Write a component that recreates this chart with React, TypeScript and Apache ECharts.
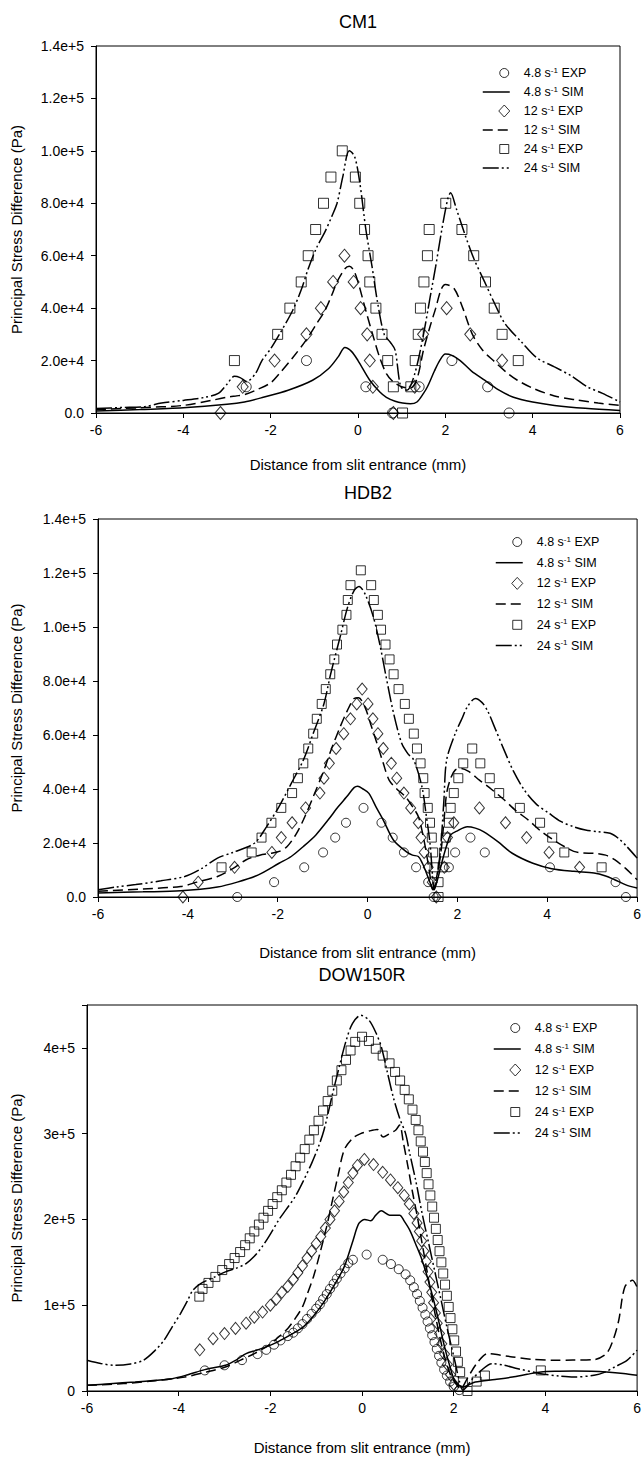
import React, { useEffect, useRef } from "react";
import * as echarts from "echarts";

const FONT = "'Liberation Sans', Arial, sans-serif";

const seriesNames = ["4.8 s-1 EXP", "4.8 s-1 SIM", "12 s-1 EXP", "12 s-1 SIM", "24 s-1 EXP", "24 s-1 SIM"];
const panelTitles = ["CM1", "HDB2", "DOW150R"];
const xTicks = [-6, -4, -2, 0, 2, 4, 6];

// ---------- CM1 ----------
const cm1Exp48 = [[-2.56, 10000], [-1.18, 20000], [0.18, 10000], [0.79, 0], [1.4, 10000], [2.15, 20000], [2.97, 10000], [3.46, 0]];
const cm1Sim48 = [[-6, 800], [-5, 1300], [-4, 2000], [-3, 3300], [-2.6, 4200], [-2.17, 6000], [-1.6, 8700], [-1.04, 12500], [-0.67, 17000], [-0.45, 21500], [-0.3, 25000], [-0.15, 23500], [0, 20000], [0.27, 12500], [0.5, 8000], [0.65, 6000], [0.85, 4500], [1.02, 3800], [1.2, 3500], [1.35, 4200], [1.5, 7500], [1.59, 10000], [1.75, 16000], [1.87, 20000], [2.0, 22500], [2.15, 22000], [2.34, 20000], [2.6, 16000], [2.9, 12500], [3.2, 9000], [3.56, 6000], [4.0, 4200], [4.5, 2900], [5.2, 1800], [6, 1000]];
const cm1Exp12 = [[-3.15, 0], [-2.64, 10000], [-1.91, 20000], [-1.18, 30000], [-0.85, 40000], [-0.57, 50000], [-0.31, 60000], [-0.1, 50000], [0.06, 40000], [0.21, 30000], [0.27, 20000], [0.34, 10000], [0.81, 0], [1.3, 10000], [1.49, 30000], [2.03, 40000], [2.57, 30000], [3.3, 20000]];
const cm1Sim12 = [[-6, 1300], [-5, 2000], [-4, 2900], [-3.3, 5000], [-3, 6000], [-2.8, 6500], [-2.6, 7000], [-2.3, 9000], [-2, 11500], [-1.8, 15000], [-1.5, 21000], [-1.18, 28000], [-0.95, 34000], [-0.76, 39000], [-0.6, 45000], [-0.48, 50000], [-0.3, 55000], [-0.2, 56000], [-0.1, 54500], [0, 50000], [0.18, 39000], [0.37, 28000], [0.5, 21000], [0.65, 15000], [0.8, 12000], [1.0, 10000], [1.2, 9500], [1.35, 13000], [1.5, 24000], [1.65, 33000], [1.78, 40000], [1.9, 47000], [2.0, 49000], [2.2, 47500], [2.4, 40000], [2.62, 30000], [2.85, 24000], [3.1, 20000], [3.4, 15500], [3.65, 12500], [4.0, 9500], [4.5, 6500], [5, 5000], [5.5, 3800], [6, 2900]];
const cm1Exp24 = [[-2.83, 20000], [-1.84, 30000], [-1.56, 40000], [-1.3, 50000], [-1.14, 60000], [-0.97, 70000], [-0.79, 80000], [-0.62, 90000], [-0.36, 100000], [-0.06, 90000], [0.04, 80000], [0.15, 70000], [0.23, 60000], [0.27, 50000], [0.41, 40000], [0.55, 30000], [0.68, 20000], [0.81, 10000], [1.02, 0], [1.21, 10000], [1.31, 20000], [1.38, 30000], [1.43, 40000], [1.51, 50000], [1.59, 60000], [1.63, 70000], [2.01, 80000], [2.38, 70000], [2.65, 60000], [2.92, 50000], [3.12, 40000], [3.3, 30000], [3.67, 20000]];
const cm1Sim24 = [[-6, 1700], [-5.4, 2100], [-4.9, 2400], [-4.5, 3800], [-4, 4800], [-3.5, 6000], [-3.2, 7500], [-3.0, 11000], [-2.83, 14000], [-2.7, 13500], [-2.55, 12000], [-2.35, 15000], [-2.2, 20000], [-2.0, 24500], [-1.8, 30000], [-1.5, 39000], [-1.3, 47000], [-1.14, 55000], [-0.95, 63000], [-0.76, 69000], [-0.6, 75000], [-0.48, 80000], [-0.35, 90000], [-0.2, 100000], [-0.08, 98000], [0.04, 88000], [0.18, 70000], [0.32, 56000], [0.45, 42000], [0.6, 30000], [0.74, 27000], [0.85, 24000], [0.98, 10000], [1.12, 8700], [1.3, 15000], [1.5, 30000], [1.65, 44000], [1.78, 56000], [1.92, 70000], [2.06, 82000], [2.12, 84000], [2.25, 78000], [2.43, 69000], [2.65, 59000], [2.9, 50000], [3.15, 41000], [3.37, 34000], [3.75, 27000], [4.1, 21000], [4.5, 17600], [4.9, 14000], [5.25, 10000], [5.6, 7500], [6, 4200]];

// ---------- HDB2 ----------
const hdbExp48 = [[-2.9, 0], [-2.08, 5500], [-1.41, 11000], [-0.99, 16500], [-0.72, 22000], [-0.48, 27500], [-0.09, 33000], [0.31, 27500], [0.56, 22000], [0.81, 16500], [1.08, 11000], [1.35, 5500], [1.47, 0], [1.81, 11000], [1.95, 16500], [2.29, 22000], [2.61, 16500], [4.06, 11000], [5.52, 5500], [5.75, 0]];
const hdbSim48 = [[-6, 1500], [-5, 1900], [-4.16, 2300], [-3.34, 3700], [-2.9, 5500], [-2.43, 8200], [-1.97, 12500], [-1.7, 15000], [-1.43, 18700], [-1.15, 23000], [-0.88, 28500], [-0.65, 33500], [-0.47, 37000], [-0.3, 40500], [-0.22, 41000], [-0.1, 40000], [0.03, 38400], [0.2, 33000], [0.35, 28500], [0.58, 21000], [0.86, 16800], [1.0, 15500], [1.13, 15000], [1.22, 12500], [1.31, 8900], [1.4, 5000], [1.47, 2700], [1.55, 6000], [1.67, 13800], [1.77, 19500], [1.85, 23000], [2.0, 24500], [2.22, 26000], [2.4, 25500], [2.58, 24200], [2.9, 20500], [3.22, 16200], [3.68, 12500], [4.1, 10500], [4.59, 9500], [5.04, 8900], [5.3, 7800], [5.5, 6400], [5.75, 4500], [6, 3300]];
const hdbExp12 = [[-4.11, 0], [-3.77, 5500], [-2.96, 11000], [-2.13, 16500], [-1.92, 22000], [-1.68, 27500], [-1.38, 33000], [-1.06, 38500], [-0.97, 44000], [-0.85, 49500], [-0.7, 55000], [-0.53, 60500], [-0.38, 66000], [-0.24, 71500], [-0.12, 77000], [0.01, 71500], [0.12, 66000], [0.23, 60500], [0.35, 55000], [0.53, 49500], [0.65, 44000], [0.81, 38500], [0.96, 33000], [1.13, 27500], [1.19, 22000], [1.26, 16500], [1.35, 11000], [1.44, 5500], [1.53, 0], [1.71, 11000], [1.78, 22000], [1.92, 27500], [2.49, 33000], [3.07, 27500], [3.54, 22000], [4.04, 16500], [4.72, 11000]];
const hdbSim12 = [[-6, 2100], [-5, 3000], [-4.16, 3900], [-3.8, 5500], [-3.34, 7600], [-3.0, 10500], [-2.7, 13800], [-2.4, 15500], [-2.15, 16200], [-1.95, 17000], [-1.79, 18700], [-1.6, 23000], [-1.43, 28500], [-1.2, 37500], [-0.97, 47000], [-0.8, 55000], [-0.61, 63000], [-0.45, 69000], [-0.3, 73500], [-0.2, 73800], [-0.06, 70400], [0.07, 64000], [0.21, 56900], [0.35, 49500], [0.48, 43300], [0.65, 40000], [0.84, 37200], [1.0, 33500], [1.13, 29800], [1.22, 24000], [1.31, 16200], [1.38, 9000], [1.45, 2700], [1.52, 6000], [1.63, 16200], [1.7, 28000], [1.76, 38400], [1.85, 44000], [1.95, 47000], [2.08, 47600], [2.25, 46500], [2.49, 43300], [2.75, 40000], [3.04, 36000], [3.3, 32000], [3.58, 28500], [3.85, 24500], [4.13, 21200], [4.4, 18500], [4.59, 16900], [4.8, 16300], [5.04, 16200], [5.3, 15500], [5.5, 13800], [5.75, 10500], [6, 6400]];
const hdbExp24 = [[-3.25, 11000], [-2.58, 16500], [-2.36, 22000], [-2.14, 27500], [-1.92, 33000], [-1.68, 38500], [-1.55, 44000], [-1.43, 49500], [-1.32, 55000], [-1.21, 60500], [-1.13, 66000], [-1.02, 71500], [-0.93, 77000], [-0.83, 82500], [-0.74, 88000], [-0.68, 93500], [-0.56, 99000], [-0.47, 104500], [-0.44, 110000], [-0.38, 115500], [-0.15, 121000], [0.08, 115500], [0.14, 110000], [0.23, 104500], [0.3, 99000], [0.4, 93500], [0.49, 88000], [0.58, 82500], [0.69, 77000], [0.83, 71500], [0.92, 66000], [1.03, 60500], [1.1, 55000], [1.18, 49500], [1.24, 44000], [1.27, 38500], [1.34, 33000], [1.39, 27500], [1.43, 22000], [1.46, 16500], [1.49, 11000], [1.58, 5500], [1.58, 0], [1.67, 11000], [1.7, 16500], [1.74, 22000], [1.81, 27500], [1.85, 33000], [1.92, 38500], [2.02, 44000], [2.13, 49500], [2.33, 55000], [2.51, 49500], [2.72, 44000], [2.93, 38500], [3.39, 33000], [3.84, 27500], [4.11, 22000], [4.38, 16500], [5.21, 11000]];
const hdbSim24 = [[-6, 2700], [-5.6, 3700], [-5.16, 4600], [-4.6, 6000], [-4.07, 7600], [-3.7, 10500], [-3.34, 14400], [-3.0, 16500], [-2.52, 19900], [-2.25, 26000], [-1.97, 33500], [-1.7, 42000], [-1.43, 50700], [-1.2, 61000], [-0.97, 71600], [-0.82, 82700], [-0.6, 97000], [-0.45, 107000], [-0.3, 113500], [-0.19, 115000], [-0.05, 112000], [0.13, 103700], [0.28, 93000], [0.4, 82700], [0.58, 68000], [0.76, 56900], [0.9, 53000], [1.03, 50700], [1.21, 40900], [1.3, 31000], [1.39, 19900], [1.49, 2700], [1.56, 9000], [1.63, 18700], [1.7, 36000], [1.76, 50700], [1.95, 60500], [2.1, 66000], [2.22, 70400], [2.4, 73500], [2.55, 72000], [2.67, 69000], [2.85, 62000], [3.04, 54400], [3.25, 46500], [3.49, 39600], [3.75, 34500], [4.04, 31000], [4.3, 28000], [4.59, 26000], [4.85, 24800], [5.13, 24200], [5.4, 23600], [5.6, 21500], [5.77, 18700], [6, 14400]];

// ---------- DOW150R ----------
const dowExp48 = [[-3.43, 24000], [-3.0, 30000], [-2.62, 36000], [-2.28, 43000], [-2.09, 48000], [-1.92, 54000], [-1.78, 59000], [-1.62, 64000], [-1.5, 68000], [-1.4, 73000], [-1.3, 78000], [-1.2, 84000], [-1.1, 90000], [-1.0, 96000], [-0.92, 101000], [-0.85, 107000], [-0.77, 113000], [-0.7, 119000], [-0.62, 125000], [-0.55, 131000], [-0.47, 137000], [-0.38, 143000], [-0.3, 149000], [-0.2, 153000], [0.1, 159000], [0.45, 153000], [0.63, 148000], [0.8, 142000], [0.95, 136000], [1.05, 129000], [1.13, 121000], [1.2, 113000], [1.26, 105000], [1.32, 97000], [1.38, 89000], [1.43, 81000], [1.48, 73000], [1.53, 65000], [1.58, 57000], [1.63, 49000], [1.68, 41000], [1.73, 33000], [1.79, 25000], [1.85, 18000], [1.92, 11000], [2.0, 5000], [2.12, 1000]];
const dowSim48 = [[-6, 6600], [-5.5, 8500], [-4.95, 10500], [-4.5, 12500], [-4.14, 14400], [-3.8, 19000], [-3.43, 24900], [-2.98, 30000], [-2.75, 36000], [-2.53, 43600], [-2.3, 47500], [-2.09, 51400], [-1.85, 57000], [-1.64, 63000], [-1.45, 69000], [-1.28, 74700], [-1.05, 88000], [-0.83, 103900], [-0.6, 124000], [-0.39, 144700], [-0.2, 175000], [-0.07, 195300], [0.06, 200000], [0.19, 198400], [0.3, 205000], [0.42, 210000], [0.6, 205000], [0.82, 205000], [0.92, 198000], [1.04, 187500], [1.18, 170000], [1.31, 152500], [1.45, 128000], [1.58, 102000], [1.7, 75000], [1.8, 51400], [1.92, 28000], [2.02, 12500], [2.2, 4700], [2.47, 10500], [2.9, 13500], [3.28, 16300], [3.6, 19500], [3.9, 22200], [4.3, 23000], [4.62, 23300], [5.0, 23000], [5.33, 22200], [5.7, 20500], [6, 18300]];
const dowExp12 = [[-3.54, 48000], [-3.25, 61000], [-3.0, 67000], [-2.76, 73000], [-2.53, 79000], [-2.35, 86000], [-2.17, 92000], [-2.0, 100000], [-1.87, 107000], [-1.75, 115000], [-1.62, 122000], [-1.5, 130000], [-1.4, 138000], [-1.3, 146000], [-1.2, 155000], [-1.1, 163000], [-1.0, 172000], [-0.9, 180000], [-0.8, 190000], [-0.7, 200000], [-0.6, 210000], [-0.5, 221000], [-0.4, 232000], [-0.3, 243000], [-0.2, 254000], [-0.1, 263000], [0.05, 270000], [0.25, 264000], [0.45, 255000], [0.62, 246000], [0.78, 237000], [0.92, 228000], [1.03, 218000], [1.13, 207000], [1.2, 196000], [1.25, 186000], [1.3, 175000], [1.35, 163000], [1.4, 151000], [1.44, 139000], [1.48, 127000], [1.52, 115000], [1.56, 103000], [1.6, 91000], [1.64, 79000], [1.69, 67000], [1.74, 55000], [1.8, 43000], [1.86, 31000], [1.93, 19000], [2.0, 8000]];
const dowSim12 = [[-6, 6600], [-5.2, 8600], [-4.5, 12000], [-3.87, 16300], [-3.4, 22000], [-2.98, 28000], [-2.65, 36000], [-2.35, 43600], [-2.05, 53000], [-1.82, 63000], [-1.62, 73000], [-1.46, 84400], [-1.3, 98000], [-1.19, 113600], [-1.05, 135000], [-0.92, 160300], [-0.78, 190000], [-0.66, 218700], [-0.52, 252000], [-0.39, 281000], [-0.2, 295000], [-0.03, 300000], [0.15, 303000], [0.33, 305000], [0.46, 296000], [0.6, 300000], [0.73, 304000], [0.82, 310000], [0.9, 290000], [1.0, 262000], [1.1, 232000], [1.2, 205000], [1.3, 175000], [1.4, 145000], [1.5, 115000], [1.6, 88000], [1.7, 62000], [1.8, 40000], [1.92, 20000], [2.05, 8000], [2.15, 3000], [2.3, 15000], [2.5, 32000], [2.74, 43600], [3.0, 42000], [3.28, 39700], [3.7, 37000], [4.17, 35800], [4.6, 36000], [5.06, 36600], [5.33, 43600], [5.48, 60000], [5.6, 82500], [5.73, 121000], [5.9, 129000], [6, 121000]];
const dowExp24 = [[-3.55, 110000], [-3.48, 119000], [-3.35, 126000], [-3.2, 133000], [-3.05, 141000], [-2.9, 148000], [-2.78, 155000], [-2.66, 162000], [-2.55, 170000], [-2.45, 178000], [-2.35, 186000], [-2.25, 194000], [-2.15, 202000], [-2.05, 210000], [-1.95, 218000], [-1.85, 226000], [-1.75, 234000], [-1.65, 243000], [-1.55, 252000], [-1.45, 262000], [-1.35, 272000], [-1.25, 282000], [-1.15, 293000], [-1.05, 304000], [-0.95, 315000], [-0.85, 327000], [-0.75, 338000], [-0.65, 350000], [-0.55, 362000], [-0.45, 374000], [-0.35, 386000], [-0.25, 397000], [-0.15, 407000], [0.0, 413000], [0.15, 408000], [0.3, 399000], [0.45, 391000], [0.6, 382000], [0.72, 372000], [0.83, 362000], [0.93, 351000], [1.02, 340000], [1.1, 328000], [1.17, 316000], [1.23, 304000], [1.28, 291000], [1.33, 279000], [1.37, 267000], [1.41, 254000], [1.45, 241000], [1.49, 228000], [1.53, 215000], [1.57, 202000], [1.61, 189000], [1.65, 176000], [1.69, 163000], [1.73, 150000], [1.77, 137000], [1.81, 124000], [1.85, 111000], [1.89, 98000], [1.93, 85000], [1.97, 72000], [2.01, 59000], [2.05, 46000], [2.09, 34000], [2.14, 22000], [2.2, 10000], [2.3, 0], [2.5, 11000], [2.68, 18000], [3.9, 24000]];
const dowSim24 = [[-6, 35800], [-5.7, 32000], [-5.39, 30000], [-5.05, 31500], [-4.77, 35800], [-4.5, 48000], [-4.32, 59100], [-4.15, 74000], [-3.96, 90300], [-3.8, 106000], [-3.69, 117500], [-3.52, 125300], [-3.25, 132000], [-2.98, 138900], [-2.75, 143000], [-2.53, 148600], [-2.35, 157000], [-2.18, 168100], [-2.0, 183000], [-1.82, 199200], [-1.65, 212000], [-1.46, 226500], [-1.28, 245000], [-1.1, 265400], [-0.95, 285000], [-0.83, 304300], [-0.65, 345000], [-0.48, 381700], [-0.35, 408000], [-0.21, 428400], [-0.03, 438000], [0.15, 432300], [0.3, 418000], [0.42, 401200], [0.55, 372000], [0.68, 342800], [0.82, 318000], [0.95, 300000], [1.04, 277000], [1.18, 243000], [1.31, 207000], [1.45, 173000], [1.58, 141000], [1.72, 107000], [1.85, 74700], [2.02, 35800], [2.12, 12000], [2.2, 1000], [2.3, 6000], [2.38, 12500], [2.6, 24000], [2.83, 31900], [3.1, 30000], [3.4, 26000], [3.9, 20200], [4.3, 17500], [4.62, 16300], [5.06, 18300], [5.3, 22000], [5.51, 28000], [5.78, 35800], [6, 47500]];

const panelData = [
  [cm1Exp48, cm1Sim48, cm1Exp12, cm1Sim12, cm1Exp24, cm1Sim24],
  [hdbExp48, hdbSim48, hdbExp12, hdbSim12, hdbExp24, hdbSim24],
  [dowExp48, dowSim48, dowExp12, dowSim12, dowExp24, dowSim24],
];

// layout (pixels)
const grids = [
  { left: 96, right: 24, top: 46, height: 367 },
  { left: 98, right: 6, top: 519, height: 378 },
  { left: 87, right: 6, top: 1005, height: 386 },
];
const legendPos = [
  { left: 482, top: 66, gap: 5 },
  { left: 495, top: 535, gap: 6.7 },
  { left: 493, top: 1021, gap: 7 },
];
const titlePos = [{ x: 358, y: 22 }, { x: 368, y: 493 }, { x: 362, y: 975 }];
const xNameGap = [44, 48, 49];
const yNameGap = [72, 74, 63];
const symSize = [10, 9, 9];

const fmtA = (v: number) => (v === 0 ? "0.0" : v.toExponential(1));
const fmtB = (v: number) => (v === 0 ? "0" : v > 400000 ? "" : v.toExponential(0));

const symbols = ["circle", null, "diamond", null, "rect", null];
const lineTypes: any[] = [null, "solid", null, [10, 5], null, [16, 3, 2, 3, 2, 3]];
const HOLLOW = { color: "rgba(255,255,255,0)", borderColor: "#000", borderWidth: 1 };

// legend icons: a 27x12 box (corner moves fix the box), the marker sits near its right end
const BOX = "M0 0 M27 12 ";
const legendIcons: any = {
  circle: "path://" + BOX + "M26 6 A4.5 4.5 0 1 1 17 6 A4.5 4.5 0 1 1 26 6 Z",
  diamond: "path://" + BOX + "M21.5 0 L27 6 L21.5 12 L16 6 Z",
  rect: "path://" + BOX + "M17 1.5 L26 1.5 L26 10.5 L17 10.5 Z",
};

export default function App() {
  const ref = useRef<HTMLDivElement>(null);
  useEffect(() => {
    document.body.style.margin = "0";
    const chart = echarts.init(ref.current!, null, { renderer: "svg" });
    const xAxis: any[] = [];
    const yAxis: any[] = [];
    const series: any[] = [];
    const legend: any[] = [];
    const graphic: any[] = [];
    grids.forEach((g, i) => {
      xAxis.push({
        gridIndex: i, type: "value", min: xTicks[0], max: xTicks[xTicks.length - 1], interval: 2,
        name: "Distance from slit entrance (mm)", nameLocation: "middle", nameGap: xNameGap[i],
        nameTextStyle: { fontFamily: FONT, fontSize: 15, color: "#000" },
        axisLine: { show: true, onZero: false, lineStyle: { color: "#000", width: 1 } },
        axisTick: { show: true, inside: false, length: 5, lineStyle: { color: "#000" } },
        axisLabel: { fontFamily: FONT, fontSize: 14, color: "#000", margin: 10 },
        splitLine: { show: false },
      });
      yAxis.push({
        gridIndex: i, type: "value", min: 0,
        max: i === 2 ? 450000 : 140000, interval: i === 2 ? 100000 : 20000,
        name: "Principal Stress Difference (Pa)", nameLocation: "middle", nameGap: yNameGap[i],
        nameTextStyle: { fontFamily: FONT, fontSize: 15, color: "#000" },
        axisLine: { show: true, onZero: false, lineStyle: { color: "#000", width: 1 } },
        axisTick: { show: true, inside: false, length: 5, lineStyle: { color: "#000" } },
        axisLabel: { fontFamily: FONT, fontSize: 14, color: "#000", margin: 12, formatter: i === 2 ? fmtB : fmtA },
        splitLine: { show: false },
      });
      panelData[i].forEach((data, k) => {
        const isExp = k % 2 === 0;
        if (isExp) {
          series.push({
            type: "scatter", name: seriesNames[k], xAxisIndex: i, yAxisIndex: i, data,
            symbol: symbols[k], clip: false,
            symbolSize: k === 2 ? [symSize[i] + 1, symSize[i] + 3] : symSize[i],
            itemStyle: HOLLOW,
            z: 3,
          });
        } else {
          series.push({
            type: "line", name: seriesNames[k], xAxisIndex: i, yAxisIndex: i, data,
            symbol: "none", smooth: 0.3,
            itemStyle: { color: "#000" },
            lineStyle: { color: "#000", width: 1.5, type: lineTypes[k] },
            z: 2,
          });
        }
      });
      legend.push({
        orient: "vertical", left: legendPos[i].left, top: legendPos[i].top, padding: 0,
        itemWidth: 27, itemHeight: 12, itemGap: legendPos[i].gap,
        selectedMode: false,
        data: seriesNames.map((n, k) =>
          k % 2 === 0
            ? { name: n, icon: legendIcons[symbols[k] as string], itemStyle: HOLLOW }
            : { name: n, itemStyle: { color: "rgba(0,0,0,0)", borderWidth: 0 }, lineStyle: { color: "#000", width: 1.5, type: lineTypes[k] } }
        ),
        formatter: (n: string) => n.replace(" s-1 ", " s{sup|-1} "),
        textStyle: {
          fontFamily: FONT, fontSize: 12.5, color: "#000", lineHeight: 14, padding: [0, 0, 0, 9],
          rich: { sup: { fontFamily: FONT, fontSize: 8, color: "#000", verticalAlign: "top", lineHeight: 8 } },
        },
      });
      graphic.push({
        type: "text", x: titlePos[i].x, y: titlePos[i].y,
        style: { text: panelTitles[i], fontFamily: FONT, fontSize: 18, fill: "#000", textAlign: "center", textVerticalAlign: "middle" },
      });
    });
    chart.setOption({
      animation: false,
      backgroundColor: "#fff",
      grid: grids.map((g) => ({ ...g, show: true, borderColor: "#000", borderWidth: 1, backgroundColor: "transparent" })),
      xAxis, yAxis, series, legend, graphic,
    });
    return () => chart.dispose();
  }, []);
  return <div ref={ref} style={{ width: 644, height: 1458 }} />;
}
